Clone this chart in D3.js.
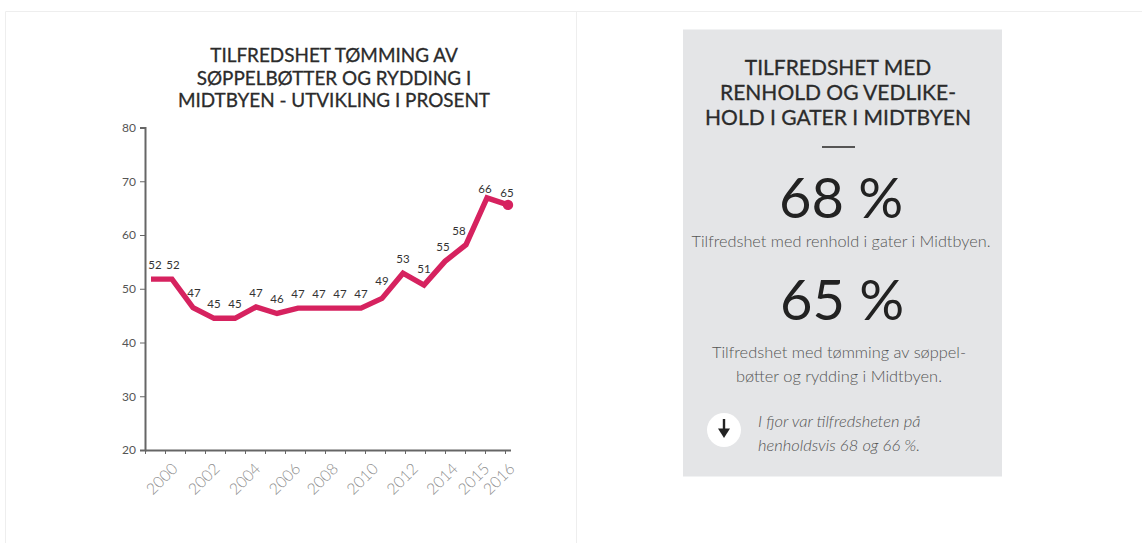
<!DOCTYPE html>
<html>
<head>
<meta charset="utf-8">
<script src="https://cdn.jsdelivr.net/npm/d3@7"></script>
<style>
  html, body { margin: 0; padding: 0; background: #fff; overflow: hidden; }
  text { font-family: Lato, sans-serif; }
</style>
</head>
<body>
<svg id="chart" width="1142" height="543"></svg>
<script>
// one slot per plotted point, the source repeats 18 positions
const slots = ["a","b","c","d","e","f","g","h","i","j","k","l","m","n","o","p","q","r"];
const plotted = [51.8,51.8,46.5,44.5,44.5,46.6,45.4,46.4,46.4,46.4,46.4,48.2,52.9,50.7,55.1,58.2,66.9,65.6];
const valueLabels = [52,52,47,45,45,47,46,47,47,47,47,49,53,51,55,58,66,65];
const yTicks = [20,30,40,50,60,70,80];
const tickYears = ["2000","2002","2004","2006","2008","2010","2012","2014","2015","2016"];

const titleLines = ["TILFREDSHET TØMMING AV","SØPPELBØTTER OG RYDDING I","MIDTBYEN - UTVIKLING I PROSENT"];
const panelTitle = ["TILFREDSHET MED","RENHOLD OG VEDLIKE-","HOLD I GATER I MIDTBYEN"];
const panelNumbers = ["68 %","65 %"];
const firstNote = ["Tilfredshet med renhold i gater i Midtbyen."];
const secondNote = ["Tilfredshet med tømming av søppel-","bøtter og rydding i Midtbyen."];
const lastYear = ["I fjor var tilfredsheten på","henholdsvis 68 og 66 %."];

const svg = d3.select("#chart");
const ink = "#2b2b2b";
const pink = "#d6225f";

// page frame
svg.append("path")
    .attr("d", "M5.5,543V11.5H1142M576.5,11.5V543")
    .attr("fill", "none")
    .attr("stroke", "#eeeeee");

const x = d3.scalePoint().domain(slots).range([151, 508]);
const y = d3.scaleLinear().domain([20, 80]).range([450, 127.5]);

function textLines(lines, cx, startY, step, size, color, extra) {
    lines.forEach((line, i) => {
        const t = svg.append("text")
            .attr("x", cx)
            .attr("y", startY + i * step)
            .attr("text-anchor", "middle")
            .attr("font-size", size)
            .attr("fill", color)
            .text(line);
        if (extra) extra(t);
    });
}

textLines(titleLines, 334, 62, 22.5, 18.9, ink, t => t.attr("stroke", ink).attr("stroke-width", 0.3));

// left axis
const yAxis = svg.append("g")
    .attr("transform", "translate(145,0)")
    .call(d3.axisLeft(y).tickValues(yTicks).tickSize(5).tickPadding(4));
yAxis.select(".domain").attr("stroke", "#666").attr("stroke-width", 2);
yAxis.selectAll(".tick line").attr("stroke", "#666");
yAxis.selectAll(".tick text").attr("font-family", "Lato").attr("font-size", 12).attr("fill", "#555");

// bottom axis, ticks run every 20 px in the source
const tickX = d3.scaleLinear().domain([0, 18]).range([145, 505]);
const xAxis = svg.append("g")
    .attr("transform", "translate(0,450)")
    .call(d3.axisBottom(tickX).tickValues(d3.range(0, 19)).tickSize(4).tickSizeOuter(0).tickFormat(""));
xAxis.select(".domain").attr("d", "M145,0.5H511").attr("stroke", "#666").attr("stroke-width", 2);
xAxis.selectAll(".tick line").attr("stroke", "#666");

// year labels are not evenly spaced in the source
const yearSlots = [0.95,2.95,4.9,6.8,8.6,10.5,12.4,14.3,15.8,17];
svg.append("g").selectAll("text")
    .data(tickYears)
    .enter()
    .append("text")
    .attr("transform", (d, i) => `translate(${x(slots[0]) + yearSlots[i] * 21 + 1},${463}) rotate(-45)`)
    .attr("text-anchor", "end")
    .attr("dy", "0.6em")
    .attr("font-size", 15.8)
    .attr("font-weight", 300)
    .attr("fill", "#8f8f8f")
    .text(d => d);

// the line
const line = d3.line()
    .x((d, i) => x(slots[i]))
    .y(d => y(d));

svg.append("path")
    .datum(plotted)
    .attr("fill", "none")
    .attr("stroke", pink)
    .attr("stroke-width", 5.4)
    .attr("stroke-linejoin", "miter")
    .attr("d", line);

svg.append("circle")
    .attr("cx", x(slots[17]))
    .attr("cy", y(plotted[17]))
    .attr("r", 5.2)
    .attr("fill", pink);

const labelDx = { 0: 4, 1: 1, 2: 1, 14: -2, 15: -7, 16: -2, 17: -1 };
const labelDy = { 16: 5, 17: 2, 11: -3, 13: -2, 2: -1 };
svg.append("g").selectAll("text")
    .data(valueLabels)
    .enter()
    .append("text")
    .attr("x", (d, i) => x(slots[i]) + (labelDx[i] || 0))
    .attr("y", (d, i) => y(plotted[i]) - 10 + (labelDy[i] || 0))
    .attr("text-anchor", "middle")
    .attr("font-size", 11.5)
    .attr("fill", "#333")
    .text(d => d);

// grey panel
svg.append("rect")
    .attr("x", 683)
    .attr("y", 29.5)
    .attr("width", 319)
    .attr("height", 447)
    .attr("fill", "#e4e5e7");

textLines(panelTitle, 838, 75, 25, 21, ink, t => t.attr("stroke", ink).attr("stroke-width", 0.3));

svg.append("rect")
    .attr("x", 822)
    .attr("y", 146)
    .attr("width", 33)
    .attr("height", 2)
    .attr("fill", "#555");

textLines([panelNumbers[0]], 841, 218, 0, 56, "#222");
textLines(firstNote, 841, 247, 0, 16.3, "#555", t => t.attr("font-weight", 300));
textLines([panelNumbers[1]], 842, 320, 0, 56, "#222");
textLines(secondNote, 839, 357.5, 24, 16.4, "#555", t => t.attr("font-weight", 300));

// arrow badge
svg.append("circle").attr("cx", 724).attr("cy", 430).attr("r", 17).attr("fill", "#fff");
svg.append("path")
    .attr("d", "M724,419V430")
    .attr("fill", "none")
    .attr("stroke", "#222")
    .attr("stroke-width", 2.4);
svg.append("path")
    .attr("d", "M718,428.5H730L724,438Z")
    .attr("fill", "#222");

lastYear.forEach((l, i) => {
    svg.append("text")
        .attr("x", 758)
        .attr("y", 427 + i * 24)
        .attr("font-size", 16.5)
        .attr("font-style", "italic")
        .attr("font-weight", 300)
        .attr("fill", "#555")
        .text(l);
});
</script>
</body>
</html>
